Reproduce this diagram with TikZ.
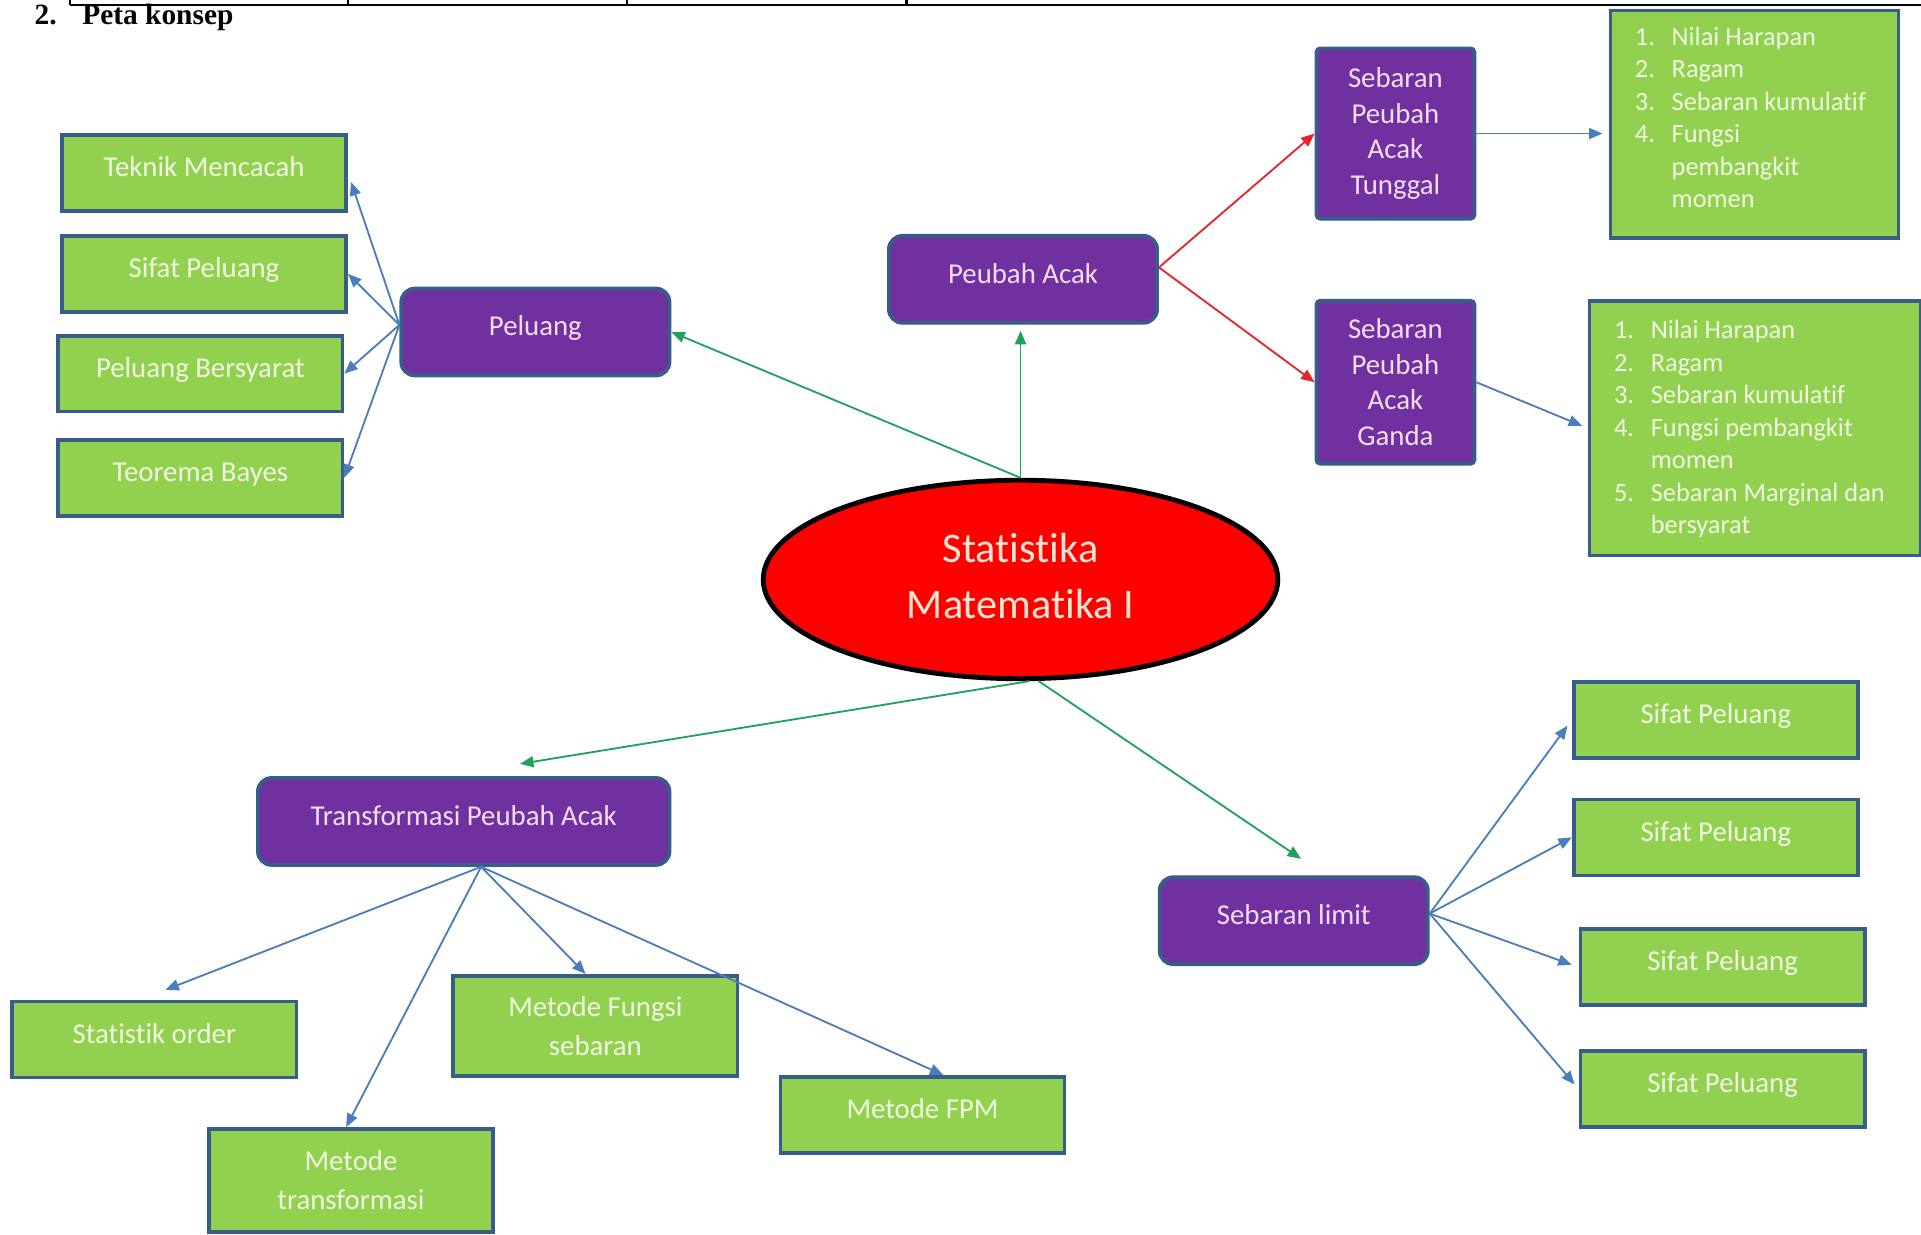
\documentclass[tikz,border=0pt]{standalone}
\usepackage{fontspec}
\setmainfont{Carlito}[Ligatures=NoCommon]
\newfontfamily\headfont{Liberation Serif}
\usepackage{xcolor}
\usepackage{tikz}
\usetikzlibrary{positioning,shapes.geometric,arrows.meta}

\definecolor{leafgreen}{HTML}{92D050}
\definecolor{edgeblue}{HTML}{385D8A}
\definecolor{topicpurple}{HTML}{7030A0}
\definecolor{leaftext}{HTML}{F1F8E2}
\definecolor{topictext}{HTML}{F6DDF6}
\definecolor{coretext}{HTML}{FFE6D2}
\definecolor{linkblue}{HTML}{4A7EBB}
\definecolor{linkred}{HTML}{E3262B}
\definecolor{linkgreen}{HTML}{1FA35C}

\begin{document}
\begin{tikzpicture}[
  x=1pt, y=-1pt,
  every node/.style={font=\fontsize{23.5}{29}\selectfont},
  leafbox/.style ={draw=edgeblue, line width=3pt, fill=leafgreen, text=leaftext,
                   minimum width=232pt, minimum height=62pt, align=center},
  leaf/.style    ={leafbox, text height=16.5pt, text depth=10.5pt},
  leafwide/.style={leafbox, font=\fontsize{23.5}{32}\selectfont},
  topicbox/.style={draw=edgeblue, line width=3pt, fill=topicpurple, text=topictext,
                   rounded corners=11pt, minimum width=219pt, minimum height=71pt,
                   align=center},
  topic/.style   ={topicbox, text height=16.5pt, text depth=10.5pt},
  distbox/.style ={topicbox, rounded corners=3pt, minimum width=129pt},
  listbox/.style ={draw=edgeblue, line width=3pt, fill=leafgreen, text=leaftext,
                   anchor=north west, inner xsep=20pt, text height=18.5pt,
                   font=\fontsize{21.5}{26.5}\selectfont},
  core/.style    ={draw=black, line width=4pt, fill=red, ellipse, text=coretext,
                   minimum width=420pt, minimum height=162pt, align=center,
                   font=\fontsize{34.5}{45}\selectfont},
  tbl/.style     ={line width=2pt, black},
  link/.style    ={-{Triangle[length=11pt,width=9pt]}, line width=1.5pt},
  blink/.style   ={link, linkblue},
  rlink/.style   ={link, linkred},
  glink/.style   ={link, linkgreen}
]
\useasboundingbox (0,0) rectangle (1568,1008);

%% ---- Heading and table edge ---------------------------------------
\draw[tbl] (57,4) -- (1568,4);
\draw[tbl] (57,0)  -- (57,4);
\draw[tbl] (284,0) -- (284,4);
\draw[tbl] (512,0) -- (512,4);
\draw[tbl] (740,0) -- (740,4);
\node[anchor=base west, inner sep=0pt,
      font=\headfont\bfseries\fontsize{24}{28}\selectfont] (judul) at (28,20)
      {\makebox[39pt][l]{2.}Peta konsep};

%% ---- Centre -------------------------------------------------------
\node[core, text depth=6pt] (core) at (833,473) {Statistika\\Matematika I};

%% ---- Main topics --------------------------------------------------
\node[topic] (peluang) at (437,271)  {Peluang};
\node[topic] (peubah)  at (835,228)  {Peubah Acak};
\node[topic, minimum width=336pt] (transformasi) at (378.5,670.5)
      {Transformasi Peubah Acak};
\node[topic] (limit)   at (1056,751.5) {Sebaran limit};

%% ---- Peluang leaves -----------------------------------------------
\node[leaf] (teknik)    at (166.5,141)   {Teknik Mencacah};
\node[leaf] (sifat)     at (166.5,223.5) {Sifat Peluang};
\node[leaf] (bersyarat) at (163.5,305)   {Peluang Bersyarat};
\node[leaf] (bayes)     at (163.5,390)   {Teorema Bayes};

%% ---- Peubah acak branches -----------------------------------------
\node[distbox, minimum height=139pt] (tunggal) at (1139,109)
      {Sebaran\\Peubah\\Acak\\Tunggal};
\node[distbox, minimum height=133pt] (ganda) at (1139,312)
      {Sebaran\\Peubah\\Acak\\Ganda};

\node[listbox, inner ysep=10pt, text depth=147pt] (listtunggal) at (1313,7)
      {\makebox[195pt][l]{\begin{tabular}[t]{@{}l@{}}
        \makebox[30pt][l]{1.}Nilai Harapan\\
        \makebox[30pt][l]{2.}Ragam\\
        \makebox[30pt][l]{3.}Sebaran kumulatif\\
        \makebox[30pt][l]{4.}Fungsi\\
        \makebox[30pt][l]{}pembangkit\\
        \makebox[30pt][l]{}momen
      \end{tabular}}};
\node[listbox, inner ysep=12.5pt, text depth=164.5pt] (listganda) at (1296,244)
      {\makebox[230pt][l]{\begin{tabular}[t]{@{}l@{}}
        \makebox[30pt][l]{1.}Nilai Harapan\\
        \makebox[30pt][l]{2.}Ragam\\
        \makebox[30pt][l]{3.}Sebaran kumulatif\\
        \makebox[30pt][l]{4.}Fungsi pembangkit\\
        \makebox[30pt][l]{}momen\\
        \makebox[30pt][l]{5.}Sebaran Marginal dan\\
        \makebox[30pt][l]{}bersyarat
      \end{tabular}}};

%% ---- Transformasi leaves ------------------------------------------
\node[leaf] (order) at (126,848.5) {Statistik order};
\node[leafwide, minimum height=82pt] (fungsi) at (486,837.5)
      {Metode Fungsi\\sebaran};
\node[leaf] (fpm) at (753,910) {Metode FPM};
\node[leafwide, minimum height=84pt] (mtrans) at (286.5,963.5)
      {Metode\\transformasi};

%% ---- Sebaran limit leaves -----------------------------------------
\node[leaf] (sp1) at (1400.5,587.5) {Sifat Peluang};
\node[leaf] (sp2) at (1400.5,683.5) {Sifat Peluang};
\node[leaf] (sp3) at (1406,789.5)   {Sifat Peluang};
\node[leaf] (sp4) at (1406,889)     {Sifat Peluang};

%% ---- Free arrow ends ----------------------------------------------
\coordinate (tpaTip) at ([xshift=46pt,yshift=10pt]transformasi.north);
\coordinate (limTip) at ([xshift=6pt,yshift=13.5pt]limit.north);
\coordinate (ordTip) at ([xshift=9pt,yshift=8pt]order.north);

%% ---- Centre to topics ---------------------------------------------
\draw[glink, shorten >=5pt] (core.north) -- (core.north |- peubah.south);
\draw[glink] (core.north) -- (peluang.east);
\draw[glink] (core.-85) -- (tpaTip);
\draw[glink] (core.-80) -- (limTip);

%% ---- Peluang fan --------------------------------------------------
\draw[blink, shorten >=8pt] (peluang.177) -- (teknik.east);
\draw[blink] (peluang.177) -- (sifat.east);
\draw[blink] (peluang.177) -- (bersyarat.east);
\draw[blink] (peluang.177) -- (bayes.east);

%% ---- Peubah acak fan ----------------------------------------------
\draw[rlink] (peubah.5) -- (tunggal.west);
\draw[rlink] (peubah.5) -- (ganda.west);
\draw[blink, shorten >=5pt] (tunggal.east) -- (tunggal.east -| listtunggal.west);
\draw[blink, shorten >=5pt] (ganda.east) -- (listganda.west);

%% ---- Transformasi fan ---------------------------------------------
\draw[blink] (transformasi.-69) -- (ordTip);
\draw[blink] (transformasi.-69) -- ([xshift=-4pt]mtrans.north);
\draw[blink] (transformasi.-69) -- ([xshift=-8pt]fungsi.north);
\draw[blink] (transformasi.-69) -- ([xshift=17pt]fpm.north);

%% ---- Sebaran limit fan --------------------------------------------
\draw[blink, shorten >=6pt] (limit.3) -- (sp1.west);
\draw[blink] (limit.3) -- (sp2.west);
\draw[blink, shorten >=6pt] (limit.3) -- (sp3.west);
\draw[blink, shorten >=5pt] (limit.3) -- (sp4.west);

\end{tikzpicture}
\end{document}
